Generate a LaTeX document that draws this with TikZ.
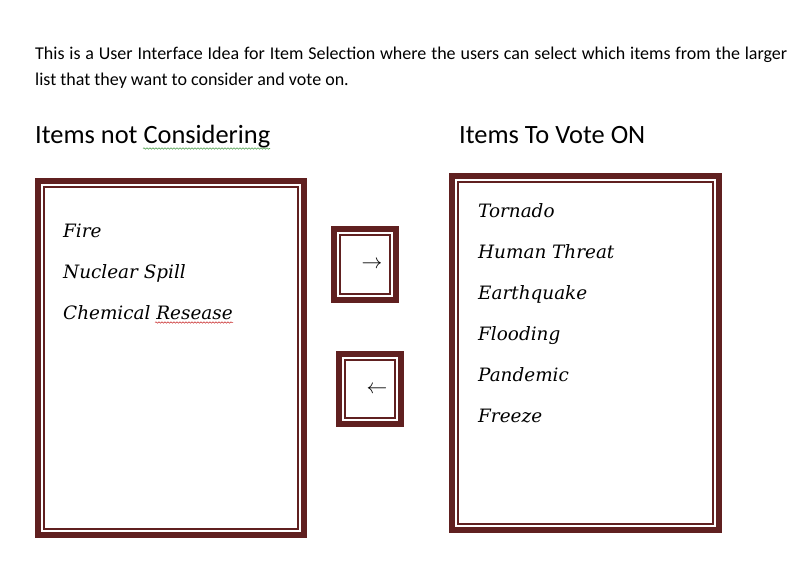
\documentclass[tikz,border=0pt]{standalone}
\usepackage{fontspec}
\setmainfont{Carlito}
\newfontfamily\listfont{DejaVu Serif}
\usetikzlibrary{decorations.pathmorphing}
\definecolor{framecol}{RGB}{96,32,32}
\definecolor{spellgreen}{RGB}{80,160,80}
\definecolor{spellred}{RGB}{200,40,40}
\tikzset{
  outerframe/.style={draw=framecol, line width=6pt, rectangle, inner sep=0pt, outer sep=0pt},
  innerframe/.style={draw=framecol, line width=2.2pt},
  headtext/.style={anchor=base west, inner sep=0pt, font=\fontsize{26.4}{30}\selectfont},
  itemtext/.style={anchor=base west, inner sep=0pt, font=\listfont\itshape\fontsize{18.4}{22}\selectfont},
  arrowtext/.style={inner sep=0pt, font=\fontsize{20}{24}\selectfont},
  squiggle/.style={decorate, decoration={snake, amplitude=0.7pt, segment length=3pt}, line width=0.6pt}
}
\begin{document}
\begin{tikzpicture}[x=1pt,y=-1pt]
\useasboundingbox[fill=white] (0,0) rectangle (801,575);
% intro text
\node[anchor=north west, inner sep=0pt, text width=752pt, align=justify,
      font=\fontsize{18}{26}\selectfont] (intro) at (35,46.5)
  {This is a User Interface Idea for Item Selection where the users can select which items from the larger\linebreak list that they want to consider and vote on.};
% headings
\node[headtext] (hleft) at (35,144) {Items not Considering};
\node[headtext] (hright) at (459,144) {Items To Vote ON};
\draw[squiggle, draw=spellgreen] (143,148.5) -- (270,148.5);
% left list box
\node[outerframe, minimum width=266pt, minimum height=354pt] (lbox) at (171,358) {};
\draw[innerframe] ([shift={(6,6)}]lbox.north west) rectangle ([shift={(-6,-6)}]lbox.south east);
\node[itemtext] (fire) at (63,237) {Fire};
\node[itemtext] (nuclear) at (63,278) {Nuclear Spill};
\node[itemtext] (chem) at (63,319) {Chemical Resease};
\draw[squiggle, draw=spellred, line width=0.5pt] (155,322.5) -- (233,322.5);
% right list box
\node[outerframe, minimum width=267pt, minimum height=354pt] (rbox) at (585.5,353) {};
\draw[innerframe] ([shift={(6,6)}]rbox.north west) rectangle ([shift={(-6,-6)}]rbox.south east);
\node[itemtext] (t1) at (478,217) {Tornado};
\node[itemtext] (t2) at (478,258) {Human Threat};
\node[itemtext] (t3) at (478,299) {Earthquake};
\node[itemtext] (t4) at (478,340) {Flooding};
\node[itemtext] (t5) at (478,381) {Pandemic};
\node[itemtext] (t6) at (478,422) {Freeze};
% buttons
\node[outerframe, minimum width=62pt, minimum height=71pt] (bright) at (365,264.5) {};
\draw[innerframe] ([shift={(6,6)}]bright.north west) rectangle ([shift={(-6,-6)}]bright.south east);
\node[arrowtext] (arr1) at (372,265) {$\rightarrow$};
\node[outerframe, minimum width=62pt, minimum height=70pt] (bleft) at (370,389) {};
\draw[innerframe] ([shift={(6,6)}]bleft.north west) rectangle ([shift={(-6,-6)}]bleft.south east);
\node[arrowtext] (arr2) at (377,390) {$\leftarrow$};
\end{tikzpicture}
\end{document}
